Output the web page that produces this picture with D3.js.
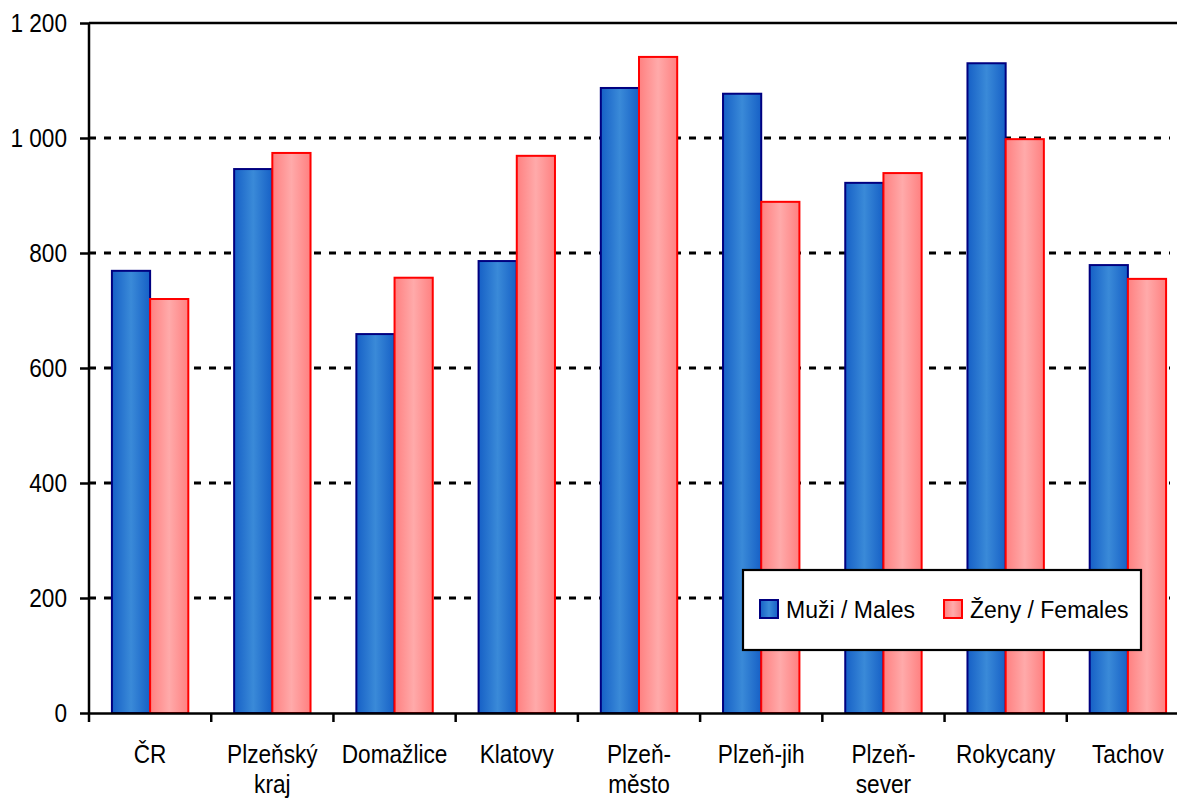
<!DOCTYPE html>
<html lang="cs">
<head>
<meta charset="UTF-8">
<title>Muži / Ženy</title>
<script src="https://d3js.org/d3.v7.min.js"></script>
<style>
    body { margin: 0; background: #fff; }
    svg { display: block; font-family: "Liberation Sans", Arial, sans-serif; }
</style>
</head>
<body>
<svg id="chart" width="1177" height="803"></svg>
<script>
    const categories = ["ČR", "Plzeňský\nkraj", "Domažlice", "Klatovy", "Plzeň-\nměsto", "Plzeň-jih", "Plzeň-\nsever", "Rokycany", "Tachov"];
    const males = [769, 946, 659, 786, 1087, 1077, 922, 1130, 779];
    const females = [720, 974, 757, 969, 1141, 889, 939, 998, 755];
    const seriesNames = ["Muži / Males", "Ženy / Females"];
    const yTicks = [0, 200, 400, 600, 800, 1000, 1200];

    const svg = d3.select("#chart");
    const plotLeft = 89, plotRight = 1189, plotTop = 23, plotBottom = 713;
    const sx = 0.87; // labels are drawn a bit condensed

    const x = d3.scaleBand().domain(categories).range([plotLeft, plotRight]).paddingInner(0).paddingOuter(0);
    const xSub = d3.scaleBand().domain(["m", "f"]).range([0, x.bandwidth()]).paddingOuter(0.6).paddingInner(0);
    const y = d3.scaleLinear().domain([0, 1200]).range([plotBottom, plotTop]);
    const fmt = d3.formatLocale({ decimal: ",", thousands: " ", grouping: [3], currency: ["", ""] }).format(",d");

    // gradients
    const defs = svg.append("defs");
    function grad(id, edge, mid) {
        const g = defs.append("linearGradient").attr("id", id).attr("x1", "0%").attr("x2", "100%").attr("y1", "0%").attr("y2", "0%");
        g.append("stop").attr("offset", "0%").attr("stop-color", edge);
        g.append("stop").attr("offset", "50%").attr("stop-color", mid);
        g.append("stop").attr("offset", "100%").attr("stop-color", edge);
    }
    grad("gM", "#1660c6", "#3a8ad8");
    grad("gF", "#ff8080", "#ffaaaa");

    // gridlines
    svg.append("g").selectAll("line")
        .data(yTicks.filter(d => d > 0 && d < 1200))
        .enter().append("line")
        .attr("x1", plotLeft).attr("x2", 1170)
        .attr("y1", d => y(d)).attr("y2", d => y(d))
        .attr("stroke", "#000").attr("stroke-width", 2.8)
        .attr("stroke-dasharray", "7,8");
    svg.append("line")
        .attr("x1", plotLeft).attr("x2", 1177)
        .attr("y1", y(1200)).attr("y2", y(1200))
        .attr("stroke", "#000").attr("stroke-width", 2.5);

    const series = [
        { key: "m", values: males, fill: "url(#gM)", stroke: "#000080" },
        { key: "f", values: females, fill: "url(#gF)", stroke: "#ff0000" }
    ];

    series.forEach(s => {
        svg.append("g").selectAll("rect")
            .data(categories.map((c, i) => ({ c: c, v: s.values[i] })))
            .enter().append("rect")
            .attr("x", d => x(d.c) + xSub(s.key))
            .attr("y", d => y(d.v))
            .attr("width", xSub.bandwidth())
            .attr("height", d => plotBottom - y(d.v))
            .attr("fill", s.fill)
            .attr("stroke", s.stroke)
            .attr("stroke-width", 2);
    });

    // y axis
    const yAxis = svg.append("g")
        .attr("transform", `translate(${plotLeft},0)`)
        .call(d3.axisLeft(y).tickValues(yTicks).tickFormat(fmt).tickSize(9).tickPadding(13));
    yAxis.select(".domain").attr("stroke-width", 2.5).attr("d", `M0,${plotTop}V${plotBottom}`);
    yAxis.selectAll(".tick line").attr("stroke-width", 2.5);
    yAxis.selectAll("text")
        .attr("font-size", 26)
        .attr("fill", "#000")
        .attr("font-family", "Liberation Sans, Arial, sans-serif")
        .attr("x", -22 / sx)
        .attr("transform", `scale(${sx},1)`);

    // x axis
    const xAxis = svg.append("g")
        .attr("transform", `translate(0,${plotBottom})`)
        .call(d3.axisBottom(x).tickSize(0).tickFormat(""));
    xAxis.select(".domain").attr("stroke-width", 2.5);
    xAxis.selectAll(".tick").remove();
    xAxis.selectAll("line.sep")
        .data(categories)
        .enter().append("line")
        .attr("x1", d => x(d)).attr("x2", d => x(d))
        .attr("y1", 0).attr("y2", 9)
        .attr("stroke", "#000").attr("stroke-width", 2.5);

    const labels = svg.append("g").selectAll("g")
        .data(categories)
        .enter().append("g")
        .attr("transform", d => `translate(${x(d) + x.bandwidth() / 2},763) scale(${sx},1)`)
        .append("text")
        .attr("text-anchor", "middle")
        .attr("font-size", 26)
        .attr("fill", "#000");
    labels.each(function(d) {
        d.split("\n").forEach((l, i) => {
            d3.select(this).append("tspan")
                .attr("x", 0)
                .attr("dy", i === 0 ? 0 : 30)
                .text(l);
        });
    });

    // legend
    const legend = svg.append("g").attr("transform", "translate(743,570)");
    legend.append("rect")
        .attr("width", 398).attr("height", 80)
        .attr("fill", "#fff").attr("stroke", "#000").attr("stroke-width", 2.2);
    const legendX = [17, 201];
    series.forEach((s, i) => {
        legend.append("rect")
            .attr("x", legendX[i]).attr("y", 30)
            .attr("width", 18).attr("height", 18)
            .attr("fill", s.fill).attr("stroke", s.stroke).attr("stroke-width", 2);
        legend.append("text")
            .attr("x", legendX[i] + 26).attr("y", 48)
            .attr("font-size", 23)
            .attr("fill", "#000")
            .text(seriesNames[i]);
    });
</script>
</body>
</html>
